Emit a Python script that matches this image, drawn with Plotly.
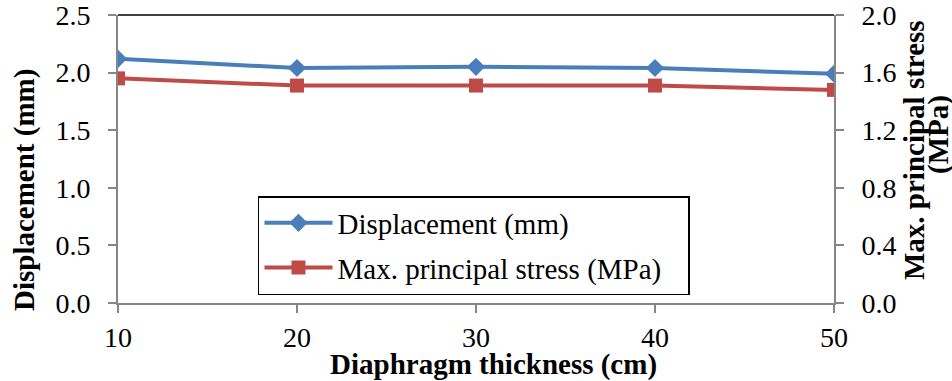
import plotly.graph_objects as go

thickness = [10, 20, 30, 40, 50]
displacement = [2.12, 2.04, 2.05, 2.04, 1.99]
stress = [1.56, 1.51, 1.51, 1.51, 1.48]

blue = "#4a7ebb"
red = "#be4b48"
grey = "#868686"
font = "Liberation Serif, Times New Roman, serif"
pad = "\u00a0" * 3

fig = go.Figure()
fig.add_trace(go.Scatter(x=thickness, y=displacement, name="Displacement (mm)",
                         mode="lines+markers", line=dict(color=blue, width=4),
                         marker=dict(symbol="diamond", size=14, color=blue),
                         legendgroup="a"))
fig.add_trace(go.Scatter(x=thickness, y=stress, name="Max. principal stress (MPa)" + pad,
                         mode="lines+markers", line=dict(color=red, width=4),
                         marker=dict(symbol="square", size=14, color=red), yaxis="y2",
                         legendgroup="b"))

axis_common = dict(showgrid=False, showline=True, linecolor=grey, linewidth=2,
                   ticks="outside", ticklen=8, tickcolor=grey, tickwidth=1.5,
                   zeroline=False, automargin=False, ticklabeloverflow="allow",
                   tickfont=dict(size=28, family=font, color="black"))

fig.update_layout(
    width=952, height=381,
    margin=dict(l=118, r=118, t=15, b=78),
    plot_bgcolor="white", paper_bgcolor="white",
    font=dict(family=font, size=29, color="black"),
    showlegend=True,
    legend=dict(x=0.1955, y=(303 - 196) / 288, xanchor="left", yanchor="top",
                bgcolor="white", bordercolor="black", borderwidth=1.5,
                font=dict(size=29, family=font), tracegroupgap=4, itemwidth=68),
    xaxis=dict(range=[10, 50], tickvals=thickness, ticklabelstandoff=0, **axis_common),
    yaxis=dict(range=[0, 2.5], dtick=0.5, tickformat=".1f", ticklabelstandoff=12,
               **axis_common),
    yaxis2=dict(range=[0, 2.0], dtick=0.4, tickformat=".1f", overlaying="y",
                side="right", ticklabelstandoff=12, **axis_common),
    shapes=[dict(type="line", xref="paper", yref="paper", x0=0, x1=1, y0=1, y1=1,
                 line=dict(color="black", width=1.5))],
    annotations=[
        dict(text="<b>Diaphragm thickness (cm)</b>", xref="paper", yref="paper",
             x=(493 - 118) / 716, y=(303 - 364) / 288, xanchor="center", yanchor="middle",
             showarrow=False, font=dict(size=29, family=font)),
        dict(text="<b>Displacement (mm)</b>", xref="paper", yref="paper",
             x=(24 - 118) / 716, y=(303 - 190) / 288, xanchor="center", yanchor="middle",
             textangle=-90, showarrow=False, font=dict(size=29, family=font)),
        dict(text="<b>Max. principal stress</b>", xref="paper", yref="paper",
             x=(914 - 118) / 716, y=(303 - 150) / 288, xanchor="center", yanchor="middle",
             textangle=-90, showarrow=False, font=dict(size=29, family=font)),
        dict(text="<b>(MPa)</b>", xref="paper", yref="paper",
             x=(938 - 118) / 716, y=(303 - 135) / 288, xanchor="center", yanchor="middle",
             textangle=-90, showarrow=False, font=dict(size=29, family=font)),
    ],
)

fig.write_html("out.html", config={"displayModeBar": False},
               post_script="document.body.style.margin='0';")
